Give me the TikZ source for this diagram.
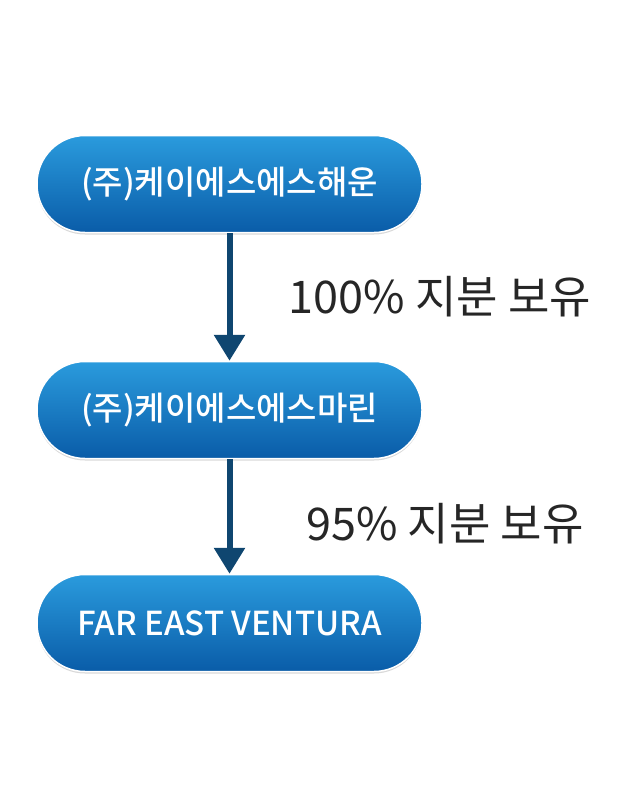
\documentclass[tikz,border=0pt]{standalone}
\usepackage{fontspec}
\newfontfamily\kr{Noto Sans CJK KR}
\newfontfamily\krb{Noto Sans CJK KR Medium}
\usetikzlibrary{arrows.meta,shadows}
\definecolor{pillTop}{HTML}{2A9BDD}
\definecolor{pillBot}{HTML}{0A5CA8}
\definecolor{arr}{HTML}{0F4670}
\tikzset{
 pill/.style={draw=white,line width=1.5pt,rounded corners=48pt,minimum width=385pt,minimum height=97pt,
   top color=pillTop,bottom color=pillBot,text=white,font=\krb\fontsize{33}{36}\selectfont,
   drop shadow={shadow xshift=0pt,shadow yshift=-2pt,opacity=0.3}},
 link/.style={draw=arr,line width=6pt,-{Triangle[width=30pt,length=26pt]}},
 lbl/.style={font=\kr\fontsize{45}{50}\selectfont,text=black!85}
}
\begin{document}
\begin{tikzpicture}[x=1pt,y=-1pt]
\useasboundingbox (0,0) rectangle (626,812);
\node[pill] (a) at (229.5,184) {(주)케이에스에스해운};
\node[pill] (b) at (229.5,410) {(주)케이에스에스마린};
\node[pill] (c) at (229.5,623) {FAR EAST VENTURA};
\draw[link] (a.south) -- (b.north);
\draw[link] (b.south) -- (c.north);
\node[lbl] (l1) at (440,297) {100\% 지분 보유};
\node[lbl] (l2) at (445,524) {95\% 지분 보유};
\end{tikzpicture}
\end{document}
